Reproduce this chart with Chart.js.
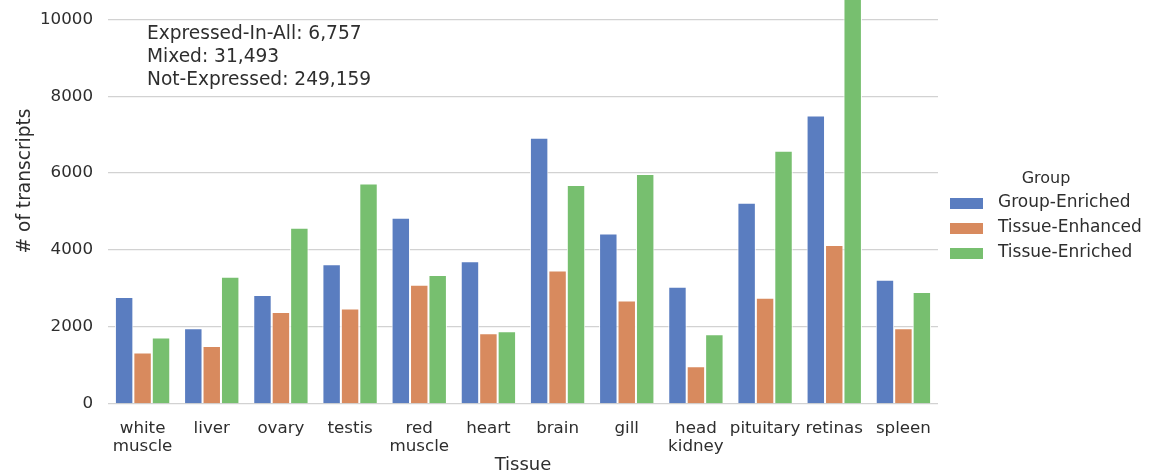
<!DOCTYPE html>
<html>
<head>
<meta charset="utf-8">
<script src="https://cdn.jsdelivr.net/npm/chart.js@4"></script>
<style>
  html, body { margin: 0; padding: 0; background: #fff; }
  #wrap { width: 1153px; height: 476px; }
</style>
</head>
<body>
<div id="wrap"><canvas id="myChart" width="1153" height="476"></canvas></div>
<script>
const tissues = [
    ['white', 'muscle'], 'liver', 'ovary', 'testis', ['red', 'muscle'], 'heart',
    'brain', 'gill', ['head', 'kidney'], 'pituitary', 'retinas', 'spleen'
];
const groupEnriched = [2780, 1970, 2830, 3630, 4840, 3710, 6920, 4430, 3050, 5230, 7500, 3230];
const tissueEnhanced = [1340, 1510, 2390, 2480, 3100, 1840, 3470, 2690, 980, 2760, 4130, 1970];
const tissueEnriched = [1730, 3310, 4580, 5730, 3350, 1890, 5690, 5980, 1815, 6580, 10800, 2910];
const groupNames = ['Group-Enriched', 'Tissue-Enhanced', 'Tissue-Enriched'];
const groupColors = ['#5a7dc0', '#d88a5e', '#77bf6f'];
const noteLines = [
    'Expressed-In-All: 6,757',
    'Mixed: 31,493',
    'Not-Expressed: 249,159'
];
const yTicks = [0, 2000, 4000, 6000, 8000, 10000];

const font = "'DejaVu Sans', sans-serif";
const textColor = '#2e2e2e';

// annotation, y title and legend drawn by hand
const extras = {
    id: 'extras',
    afterDraw(chart) {
        const ctx = chart.ctx;
        ctx.save();
        ctx.fillStyle = textColor;
        ctx.font = '18.6px ' + font;
        ctx.textAlign = 'left';
        ctx.textBaseline = 'middle';
        noteLines.forEach((t, i) => ctx.fillText(t, 147, 34 + i * 23));

        // y title
        ctx.save();
        ctx.translate(25, 181);
        ctx.rotate(-Math.PI / 2);
        ctx.textAlign = 'center';
        ctx.font = '18.6px ' + font;
        ctx.fillText('# of transcripts', 0, 0);
        ctx.restore();

        // legend
        ctx.font = '16px ' + font;
        ctx.textAlign = 'center';
        ctx.fillText('Group', 1046, 179);
        ctx.font = '17px ' + font;
        ctx.textAlign = 'left';
        chart.data.datasets.forEach((ds, i) => {
            const y = 203 + i * 25;
            ctx.fillStyle = ds.backgroundColor;
            ctx.fillRect(950, y - 5, 33, 11);
            ctx.fillStyle = textColor;
            ctx.fillText(ds.label, 998, y);
        });
        ctx.restore();
    }
};

const data = {
    labels: tissues,
    datasets: [groupEnriched, tissueEnhanced, tissueEnriched].map((vals, i) => ({
        label: groupNames[i],
        data: vals,
        backgroundColor: groupColors[i],
        borderColor: '#ffffff',
        borderWidth: 1,
        categoryPercentage: 0.8,
        barPercentage: 1.0
    }))
};

const config = {
    type: 'bar',
    data: data,
    options: {
        responsive: false,
        animation: false,
        layout: { padding: { top: 0, left: 0, right: 215, bottom: 0 } },
        plugins: {
            legend: { display: false },
            tooltip: { enabled: false }
        },
        scales: {
            x: {
                grid: { display: false },
                border: { display: false },
                ticks: {
                    color: textColor,
                    font: { size: 16.7, family: font, lineHeight: 1.12 },
                    padding: 7,
                    maxRotation: 0,
                    autoSkip: false
                },
                title: {
                    display: true,
                    text: 'Tissue',
                    color: textColor,
                    font: { size: 18, family: font },
                    padding: { top: 0, bottom: 0 }
                },
                afterFit(scale) {
                    scale.height = 72;
                    scale.paddingLeft = 0;
                    scale.paddingRight = 0;
                }
            },
            y: {
                min: 0,
                max: 10500,
                grid: { color: '#d2d2d2', lineWidth: 1.3, drawTicks: false },
                border: { display: false },
                afterBuildTicks(scale) {
                    scale.ticks = yTicks.map(v => ({ value: v }));
                },
                ticks: {
                    color: textColor,
                    font: { size: 16.7, family: font },
                    padding: 15,
                    callback: v => String(v)
                },
                afterFit(scale) {
                    scale.width = 108;
                    scale.paddingTop = 0;
                    scale.paddingBottom = 0;
                }
            }
        }
    },
    plugins: [extras]
};

const myChart = new Chart(
    document.getElementById('myChart'),
    config
);
</script>
</body>
</html>
